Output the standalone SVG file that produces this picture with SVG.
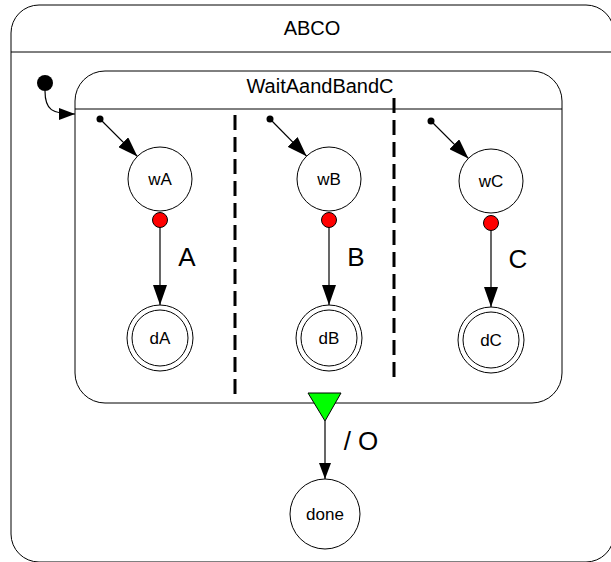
<svg xmlns="http://www.w3.org/2000/svg" width="611" height="562" viewBox="0 0 611 562">
<defs>
<marker id="arr" viewBox="0 0 20 14" refX="20" refY="7" markerWidth="20" markerHeight="14" markerUnits="userSpaceOnUse" orient="auto"><path d="M0,0 L20,7 L0,14 Z" fill="#000"/></marker>
<marker id="arrM" viewBox="0 0 16 12" refX="16" refY="6" markerWidth="16" markerHeight="12" markerUnits="userSpaceOnUse" orient="auto"><path d="M0,0 L16,6 L0,12 Z" fill="#000"/></marker>
</defs>
<style>
.box{fill:#fff;stroke:#000;stroke-width:1}
.hl{stroke:#000;stroke-width:1;fill:none}
.st{fill:#fff;stroke:#000;stroke-width:1}
.t{font-family:"Liberation Sans",Arial,sans-serif;fill:#000;text-anchor:middle}
.sl{font-size:17px}
.big{font-size:26px}
.title{font-size:20px}
.dash{stroke:#000;stroke-width:3;stroke-dasharray:15 7;fill:none}
.red{fill:#ff0000;stroke:#000;stroke-width:1}
.ini{fill:#000}
.edge{stroke:#000;stroke-width:1.2;fill:none}
</style>
<g id="ABCO">
<rect class="box" x="11" y="5" width="603" height="557" rx="28"/>
<line class="hl" x1="11" y1="52" x2="614" y2="52"/>
<text class="t title" x="312" y="35">ABCO</text>
</g>
<g id="init0"><circle class="ini" cx="45" cy="83" r="8"/></g>
<g id="WaitAandBandC">
<rect class="box" x="75" y="71" width="487" height="332" rx="30"/>
<line class="hl" x1="75" y1="109" x2="562" y2="109"/>
<text class="t title" x="320" y="93">WaitAandBandC</text>
<line class="dash" x1="235" y1="115" x2="235" y2="397"/>
<line class="dash" x1="394" y1="98" x2="394" y2="380"/>
</g>
<g id="initA"><circle class="ini" cx="100" cy="119" r="3.5"/></g>
<g id="initB"><circle class="ini" cx="270" cy="119" r="3.5"/></g>
<g id="initC"><circle class="ini" cx="431" cy="121" r="3.5"/></g>
<g id="wA"><circle class="st" cx="160" cy="179" r="32"/><text class="t sl" x="160" y="185">wA</text></g>
<g id="wB"><circle class="st" cx="329" cy="179" r="32"/><text class="t sl" x="329" y="185">wB</text></g>
<g id="wC"><circle class="st" cx="491" cy="181" r="32"/><text class="t sl" x="491" y="187">wC</text></g>
<g id="dA"><circle class="st" cx="160" cy="338" r="33"/><circle class="st" cx="160" cy="338" r="28"/><text class="t sl" x="160" y="344">dA</text></g>
<g id="dB"><circle class="st" cx="329" cy="338" r="33"/><circle class="st" cx="329" cy="338" r="28"/><text class="t sl" x="329" y="344">dB</text></g>
<g id="dC"><circle class="st" cx="491" cy="340" r="33"/><circle class="st" cx="491" cy="340" r="28"/><text class="t sl" x="491" y="346">dC</text></g>
<g id="done"><circle class="st" cx="325" cy="514" r="35"/><text class="t sl" x="325" y="520">done</text></g>
<g id="connectors">
<path class="edge" d="M45,91 C45,110 52,114 75,114" marker-end="url(#arrM)"/>
<line class="edge" x1="100" y1="119" x2="137.4" y2="156.4" marker-end="url(#arr)"/>
<line class="edge" x1="270" y1="119" x2="306.6" y2="156.2" marker-end="url(#arr)"/>
<line class="edge" x1="431" y1="121" x2="468.4" y2="158.4" marker-end="url(#arr)"/>
<line class="edge" x1="160" y1="226" x2="160" y2="305" marker-end="url(#arr)"/>
<line class="edge" x1="329" y1="226" x2="329" y2="305" marker-end="url(#arr)"/>
<line class="edge" x1="491" y1="229" x2="491" y2="307" marker-end="url(#arr)"/>
<line class="edge" x1="325" y1="421" x2="325" y2="479" marker-end="url(#arrM)"/>
<circle class="red" cx="160" cy="220" r="7.5"/>
<circle class="red" cx="329" cy="220" r="7.5"/>
<circle class="red" cx="491" cy="223" r="7.5"/>
<polygon points="308,393 341,393 325,421" fill="#00ff00" stroke="#000" stroke-width="1"/>
<text class="t big" x="187" y="266">A</text>
<text class="t big" x="356" y="266">B</text>
<text class="t big" x="518" y="268">C</text>
<text class="t big" x="361" y="450">/ O</text>
</g>
</svg>
